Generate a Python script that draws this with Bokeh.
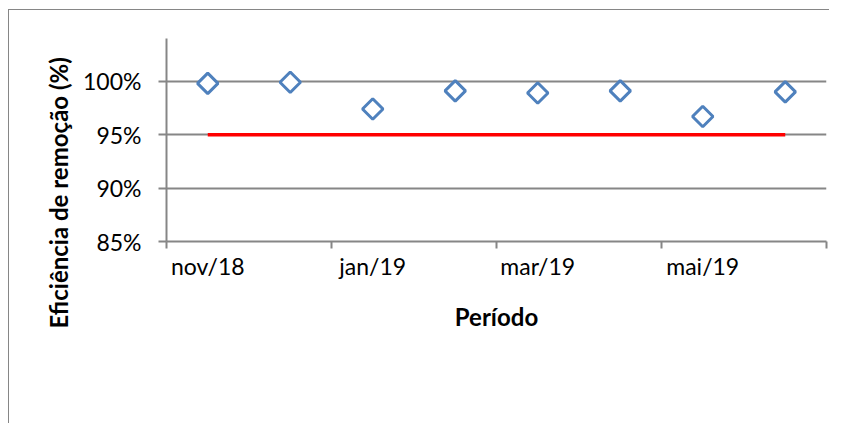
import math
from bokeh.plotting import figure
from bokeh.models import (FixedTicker, PrintfTickFormatter, Legend, LegendItem,
                          Title, Range1d, ColumnDataSource)
from bokeh.embed import file_html
from bokeh.resources import INLINE

# ---- data ----
periods = ["nov/18", "dez/18", "jan/19", "fev/19", "mar/19", "abr/19", "mai/19", "jun/19"]
eficiencia = [99.8, 99.9, 97.4, 99.1, 98.9, 99.1, 96.7, 99.0]
eficiencia_minima = [95, 95, 95, 95, 95, 95, 95, 95]
y_ticks = [85, 90, 95, 100]
y_min, y_max = 85, 104
label_step = 2

x_centers = [i + 0.5 for i in range(len(periods))]
src = ColumnDataSource(dict(x=x_centers, ef=eficiencia, efmin=eficiencia_minima))

GRAY = "#868686"
BLUE = "#4F81BD"
RED = "#FF0000"
FONT = "Lato"

# canvas origin expected at picture (9, 10)
OX, OY = 9, 10
p = figure(frame_width=660, frame_height=203, output_backend="svg", toolbar_location=None,
           x_range=Range1d(0, len(periods)), y_range=Range1d(y_min, y_max),
           min_border_left=166 - OX, min_border_right=3,
           min_border_top=38 - OY, min_border_bottom=5)
p.styles = {"margin-left": "8px", "margin-top": "9px",
            "border-left": "1px solid #868686", "border-top": "1px solid #868686"}
p.outline_line_color = None
p.xgrid.visible = False
p.ygrid.ticker = FixedTicker(ticks=y_ticks)
p.ygrid.grid_line_color = GRAY
p.ygrid.grid_line_width = 2

# x axis
major = [x_centers[i] for i in range(0, len(periods), label_step)]
minor = [float(i) for i in range(0, len(periods) + 1, label_step)]
xa = p.xaxis[0]
xa.ticker = FixedTicker(ticks=major, minor_ticks=minor)
xa.major_label_overrides = {major[k]: periods[i] for k, i in enumerate(range(0, len(periods), label_step))}
xa.major_tick_out = 0
xa.major_tick_in = 0
xa.minor_tick_out = 7
xa.minor_tick_in = 0
xa.minor_tick_line_color = GRAY
xa.minor_tick_line_width = 2
xa.axis_line_color = GRAY
xa.axis_line_width = 2
xa.major_label_text_font = FONT
xa.major_label_text_font_size = "23px"
xa.major_label_text_color = "black"
xa.major_label_standoff = 3
xa.axis_label = "Período"
xa.axis_label_text_font = FONT
xa.axis_label_text_font_style = "bold"
xa.axis_label_text_font_size = "24px"
xa.axis_label_text_color = "black"
xa.axis_label_standoff = 19

# y axis
ya = p.yaxis[0]
ya.ticker = FixedTicker(ticks=y_ticks)
ya.formatter = PrintfTickFormatter(format="%d%%")
ya.major_tick_out = 8
ya.major_tick_in = 0
ya.major_tick_line_color = GRAY
ya.major_tick_line_width = 2
ya.minor_tick_line_color = None
ya.axis_line_color = GRAY
ya.axis_line_width = 2
ya.major_label_text_font = FONT
ya.major_label_text_font_size = "23px"
ya.major_label_text_color = "black"
ya.major_label_standoff = 17

# series
r_line = p.line("x", "efmin", source=src, line_color=RED, line_width=3.5)
r_pts = p.scatter("x", "ef", source=src, marker="square", size=14.5, angle=math.pi / 4,
                  line_color=BLUE, line_width=3, fill_color="white")

# y axis title, placed like the original (starts below the frame)
p.add_layout(Title(text="Eficiência de remoção (%)", align="left", offset=-87,
                   text_font=FONT, text_font_style="bold", text_font_size="24px",
                   text_color="black", standoff=16), "left")

legend = Legend(items=[LegendItem(label="Eficiência", renderers=[r_pts]),
                       LegendItem(label="Eficiência mínima", renderers=[r_line])],
                orientation="horizontal", location="top_left",
                glyph_width=54, glyph_height=28, label_standoff=5, spacing=42,
                padding=0, margin=45, border_line_color=None,
                background_fill_alpha=0,
                label_text_font=FONT, label_text_font_size="24px",
                label_text_color="black")
p.add_layout(legend, "below")

open("out.html", "w").write(file_html(p, INLINE))
